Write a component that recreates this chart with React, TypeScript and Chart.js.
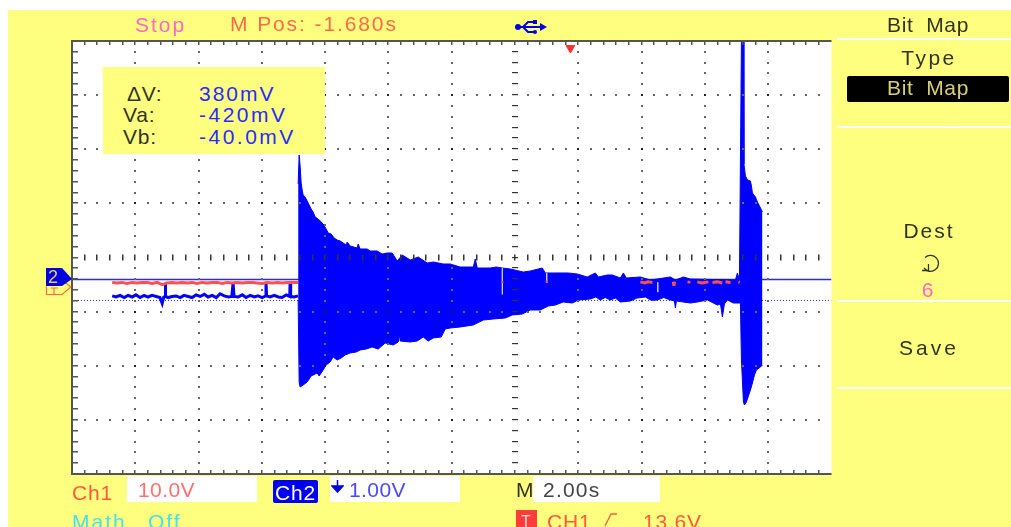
import React, { useEffect, useRef } from "react";
import { Chart, registerables } from "chart.js";

Chart.register(...registerables);

// Axes: seconds across (2.00 s/div), volts up (1.00 V/div)
const xMajorStep = 2;
const xMinorStep = 0.4;
const yMajorStep = 1;
const yMinorStep = 0.2;
const timeMin = 0;
const timeMax = 24;
const voltMin = -4;
const voltMax = 4;
const centreTime = 14;
const centreVolt = 0;
const burstMidVolt = -0.6;

const upperTime = [7.146,7.178,7.209,7.241,7.273,7.304,7.367,7.431,7.494,7.557,7.62,7.684,7.779,7.842,7.937,8.031,8.095,8.19,8.284,8.379,8.474,8.569,8.664,8.696,8.79,9.012,9.043,9.107,9.328,9.423,9.644,9.802,9.96,10.118,10.277,10.435,10.688,10.941,11.225,11.415,11.731,11.952,12.269,12.68,12.743,12.806,13.217,13.407,13.597,13.85,14.261,14.482,14.861,14.956,15.209,15.684,15.968,16.284,16.537,16.632,16.917,17.075,17.328,17.423,17.517,17.96,18.276,18.909,19.067,19.32,19.541,20.964,21.027,21.091,21.154,21.217,21.233,21.28,21.344,21.438,21.47,21.502,21.596,21.66,21.755,21.818];
const upperVolt = [1.358,1.894,1.691,1.376,1.247,1.155,1.118,1.044,0.97,0.896,0.841,0.748,0.711,0.674,0.619,0.527,0.453,0.434,0.36,0.323,0.305,0.268,0.231,0.286,0.212,0.176,0.249,0.157,0.157,0.12,0.12,0.065,0.083,0.083,-0.065,0.046,-0.046,0.009,-0.102,-0.083,-0.12,-0.12,-0.176,-0.176,-0.028,-0.194,-0.194,-0.176,-0.194,-0.212,-0.268,-0.249,-0.194,-0.286,-0.286,-0.286,-0.305,-0.36,-0.286,-0.36,-0.323,-0.323,-0.379,-0.286,-0.379,-0.36,-0.416,-0.36,-0.416,-0.36,-0.397,-0.416,-0.286,-0.416,4,4,1.728,1.506,1.432,1.413,1.321,1.192,1.118,1.025,0.915,0.841];

const lowerTime = [7.146,7.178,7.209,7.304,7.431,7.557,7.747,7.81,7.937,8.031,8.158,8.253,8.379,8.506,8.632,8.79,8.98,9.107,9.296,9.486,9.676,9.897,10.15,10.308,10.34,10.371,10.688,10.909,11.099,11.257,11.415,11.668,11.794,11.952,12.269,12.68,12.996,13.312,13.691,13.913,14.229,14.482,14.798,15.051,15.272,15.525,15.81,16,16.379,16.55,16.695,16.85,17.012,17.17,17.328,17.644,17.85,18.118,18.3,18.498,18.7,18.909,19.035,19.067,19.098,19.541,19.763,20.079,20.395,20.49,20.553,20.616,20.711,20.901,21.122,21.154,21.217,21.249,21.312,21.375,21.438,21.502,21.565,21.628,21.755,21.818];
const lowerVolt = [-0.785,-2.3,-2.393,-2.356,-2.3,-2.189,-2.134,-2.189,-2.079,-1.986,-1.931,-1.838,-1.894,-1.857,-1.801,-1.764,-1.746,-1.709,-1.691,-1.654,-1.691,-1.58,-1.617,-1.561,-1.413,-1.543,-1.561,-1.543,-1.469,-1.543,-1.487,-1.469,-1.321,-1.303,-1.284,-1.247,-1.155,-1.136,-1.118,-1.062,-1.044,-0.97,-0.97,-0.896,-0.878,-0.822,-0.841,-0.785,-0.767,-0.73,-0.785,-0.74,-0.785,-0.75,-0.822,-0.804,-0.75,-0.73,-0.79,-0.785,-0.74,-0.785,-0.804,-0.933,-0.804,-0.841,-0.822,-0.785,-0.878,-0.859,-1.099,-0.859,-0.785,-0.841,-0.841,-1.894,-2.67,-2.725,-2.67,-2.559,-2.448,-2.319,-2.171,-2.079,-2.023,-1.986];

const ch2IdleTime = [1.27,1.39,1.52,1.65,1.77,1.9,2.02,2.15,2.28,2.4,2.53,2.66,2.78,2.85,2.9,2.94,2.95,2.96,3.04,3.16,3.29,3.42,3.54,3.67,3.8,3.92,4.05,4.18,4.3,4.43,4.56,4.68,4.81,4.94,5.05,5.09,5.12,5.25,5.38,5.5,5.63,5.76,5.88,6.01,6.12,6.13,6.15,6.26,6.39,6.52,6.64,6.77,6.88,6.89,6.91,7.02,7.14];
const ch2IdleVolt = [-0.71,-0.73,-0.7,-0.74,-0.7,-0.73,-0.69,-0.74,-0.7,-0.73,-0.7,-0.72,-0.74,-0.85,-0.73,-0.72,-0.47,-0.72,-0.74,-0.72,-0.71,-0.74,-0.7,-0.72,-0.74,-0.69,-0.72,-0.68,-0.73,-0.7,-0.74,-0.67,-0.71,-0.73,-0.72,-0.47,-0.72,-0.73,-0.69,-0.74,-0.7,-0.73,-0.71,-0.74,-0.71,-0.45,-0.71,-0.73,-0.7,-0.73,-0.74,-0.69,-0.72,-0.48,-0.72,-0.73,-0.71];

const ch1Time = [1.27,1.42,1.58,1.74,1.9,2.05,2.21,2.37,2.53,2.69,2.85,3.0,3.16,3.32,3.48,3.64,3.8,3.95,4.11,4.27,4.43,4.59,4.75,4.9,5.06,5.22,5.38,5.54,5.7,5.85,6.01,6.17,6.33,6.49,6.65,6.8,6.96,7.14,7.15,
  17.96,18.1,18.2,18.34,18.4,19.0,19.02,19.04,19.1,19.45,19.54,19.6,19.76,19.9,20.11,20.15,20.24,20.4,20.55,20.6,20.65,20.81,20.9,21.06,21.1];
const ch1Volt = [-0.46,-0.47,-0.46,-0.48,-0.46,-0.47,-0.46,-0.46,-0.48,-0.46,-0.5,-0.47,-0.46,-0.47,-0.46,-0.47,-0.46,-0.48,-0.46,-0.47,-0.46,-0.46,-0.48,-0.46,-0.47,-0.46,-0.47,-0.46,-0.46,-0.47,-0.48,-0.46,-0.47,-0.46,-0.47,-0.46,-0.46,-0.46,null,
  -0.45,-0.47,-0.45,-0.46,null,-0.45,-0.52,-0.45,null,-0.45,-0.46,null,-0.45,-0.47,-0.45,null,-0.46,-0.45,-0.47,null,-0.45,-0.46,null,-0.45,-0.46];

const gapTime = [13.6, 13.6, null, 18.51, 18.51, null, 15.0, 15.0];
const gapVolt = [-0.2, -0.68, null, -0.46, -0.64, null, -0.29, -0.47];
const glintTime = [13.6, 15.0];
const glintVolt = [-0.45, -0.44];

const cursorTime = [0, 24];
const cursorB = [-0.406, -0.406];
const cursorA = [-0.794, -0.794];
const triggerTime = [15.75];
const triggerVolt = [3.87];

const pairs = (xs: (number | null)[], ys: (number | null)[]) => xs.map((x, i) => ({ x: x === null ? 0 : x, y: ys[i] }));

const gridPlugin = {
  id: "scopeGrid",
  beforeDraw(chart: any) {
    const { ctx, chartArea: a } = chart;
    ctx.save();
    ctx.fillStyle = "#ffffff";
    ctx.fillRect(a.left, a.top, a.right - a.left, a.bottom - a.top);
    ctx.restore();
  },
  afterDatasetsDraw(chart: any) {
    const { ctx, chartArea: a } = chart;
    const X = chart.scales.x;
    const Y = chart.scales.y;
    ctx.save();
    const xMinor: number[] = [];
    for (let k = 1; k * xMinorStep < timeMax - 1e-6; k++) xMinor.push(k * xMinorStep);
    const yMinor: number[] = [];
    for (let k = 1; k * yMinorStep < voltMax - voltMin - 1e-6; k++) yMinor.push(voltMin + k * yMinorStep);
    const isXMajor = (t: number) => Math.abs(t / xMajorStep - Math.round(t / xMajorStep)) < 1e-6;
    const isYMajor = (v: number) => Math.abs(v / yMajorStep - Math.round(v / yMajorStep)) < 1e-6;
    for (const t of xMinor) {
      for (const v of yMinor) {
        if (Math.abs(t - centreTime) < 1e-6 || Math.abs(v - centreVolt) < 1e-6) continue;
        if (isXMajor(t) || isYMajor(v)) {
          ctx.fillStyle = isXMajor(t) && isYMajor(v) ? "#222222" : "#666666";
          ctx.fillRect(Math.round(X.getPixelForValue(t)) - 1, Math.round(Y.getPixelForValue(v)) - 1, 2, 2);
        }
      }
    }
    // centre cross: short dashes
    ctx.fillStyle = "#333333";
    for (const t of xMinor) {
      ctx.fillRect(Math.round(X.getPixelForValue(t)) - 1, Y.getPixelForValue(centreVolt) - 3, 1.5, 6);
    }
    for (const v of yMinor) {
      ctx.fillRect(X.getPixelForValue(centreTime) - 3, Math.round(Y.getPixelForValue(v)) - 1, 6, 1.2);
    }
    // border ticks
    ctx.fillStyle = "#555555";
    for (const t of xMinor) {
      const p = Math.round(X.getPixelForValue(t)) - 1;
      ctx.fillRect(p, a.top, 1.5, 4);
      ctx.fillRect(p, a.bottom - 4, 1.5, 4);
    }
    for (const v of yMinor) {
      const p = Math.round(Y.getPixelForValue(v)) - 1;
      ctx.fillRect(a.left, p, 6, 1.5);
    }
    ctx.fillRect(a.left - 1, a.top - 1, a.right - a.left + 1, 2);
    ctx.fillRect(a.left - 1, a.bottom - 1, a.right - a.left + 1, 2);
    ctx.fillRect(a.left - 1, a.top - 1, 2, a.bottom - a.top + 1);
    ctx.restore();
  },
};

const SANS = '"Liberation Sans", sans-serif';

function Box(p: { x: number; y: number; w: number; h: number; c: string; r?: number }) {
  return <div style={{ position: "absolute", left: p.x, top: p.y, width: p.w, height: p.h, background: p.c, borderRadius: p.r || 0 }} />;
}

function Label(p: { x: number; y: number; t: string; c: string; s?: number; ls?: number; center?: boolean }) {
  return (
    <span
      style={{
        position: "absolute",
        left: p.x,
        top: p.y,
        color: p.c,
        font: `${p.s || 21}px ${SANS}`,
        lineHeight: "24px",
        letterSpacing: p.ls === undefined ? 0.8 : p.ls,
        whiteSpace: "pre",
        transform: p.center ? "translateX(-50%)" : undefined,
      }}
    >
      {p.t}
    </span>
  );
}

export default function App() {
  const ref = useRef<HTMLCanvasElement>(null);
  useEffect(() => {
    const gapData = gapTime.map((x, i) => ({ x: x === null ? 14 : x, y: gapVolt[i] }));
    const chart = new Chart(ref.current!, {
      type: "line",
      data: {
        datasets: [
          { label: "Cursor b", data: pairs(cursorTime, cursorB), borderColor: "#2a2ae6", borderWidth: 1.5, pointRadius: 0, order: 5 },
          { label: "Cursor a", data: pairs(cursorTime, cursorA), borderColor: "#2a2ae6", borderWidth: 1, borderDash: [1, 2], pointRadius: 0, order: 5 },
          { label: "Ch2 upper", data: pairs(upperTime, upperVolt), borderColor: "#0000ff", backgroundColor: "#0000ff", borderWidth: 1, pointRadius: 0, fill: { value: burstMidVolt }, order: 3 },
          { label: "Ch2 lower", data: pairs(lowerTime, lowerVolt), borderColor: "#0000ff", backgroundColor: "#0000ff", borderWidth: 1, pointRadius: 0, fill: { value: burstMidVolt }, order: 3 },
          { label: "Ch2 idle", data: pairs(ch2IdleTime, ch2IdleVolt), borderColor: "#0000ff", borderWidth: 3, pointRadius: 0, order: 2 },
          { label: "Ch1 idle", data: pairs(ch1Time, ch1Volt), borderColor: "#ff5050", borderWidth: 3, pointRadius: 0, spanGaps: false, order: 1 },
          { label: "Gaps", data: gapData, borderColor: "#c8c8ff", borderWidth: 1, pointRadius: 0, spanGaps: false, order: 0 },
          { label: "Glints", data: pairs(glintTime, glintVolt), showLine: false, pointStyle: "rect", pointRadius: 1.5, pointBackgroundColor: "#ff4060", pointBorderWidth: 0, order: -1 },
          {
            label: "Trigger",
            data: pairs(triggerTime, triggerVolt),
            showLine: false,
            pointStyle: "triangle",
            rotation: 180,
            pointRadius: 5,
            pointBackgroundColor: "#ff3030",
            pointBorderColor: "#ff3030",
            order: 0,
          },
        ] as any,
      },
      options: {
        animation: false,
        responsive: false,
        layout: { padding: { left: 72, right: 179.5, top: 41, bottom: 53 } },
        plugins: { legend: { display: false }, tooltip: { enabled: false }, title: { display: false } },
        elements: { line: { tension: 0 } },
        scales: {
          x: { type: "linear", min: timeMin, max: timeMax, display: false, ticks: { stepSize: xMajorStep } },
          y: { type: "linear", min: voltMin, max: voltMax, display: false, ticks: { stepSize: yMajorStep } },
        },
      },
      plugins: [gridPlugin],
    } as any);
    return () => chart.destroy();
  }, []);

  const Y = "#ffff7f";
  const W = "#ffffff";
  const INK = "#333322";
  return (
    <div style={{ position: "fixed", left: 0, top: 0, width: 1011, height: 527, overflow: "hidden", background: W }}>
      <Box x={8} y={10} w={1003} h={517} c={Y} />
      <canvas ref={ref} width={1011} height={527} style={{ position: "absolute", left: 0, top: 0, display: "block" }} />

      {/* top strip */}
      <Label x={135} y={13} t="Stop" c="#ff66cc" ls={2} />
      <Label x={230} y={12} t="M Pos: -1.680s" c="#ff6a4a" ls={1.9} />
      <svg style={{ position: "absolute", left: 514, top: 18, width: 34, height: 18 }} viewBox="0 0 34 18">
        <path d="M3 9H30M9 9L14 4H20M9 9L14 14H20" stroke="#0000e0" strokeWidth="2" fill="none" />
        <path d="M26 5L33 9L26 13Z" fill="#0000e0" />
        <circle cx="4" cy="9" r="3" fill="#0000e0" />
        <rect x="19" y="2" width="4" height="4" fill="#0000e0" />
        <circle cx="21" cy="14" r="2" fill="#0000e0" />
      </svg>

      {/* cursor readout */}
      <Box x={103} y={67} w={222} h={87} c={Y} />
      <Label x={127} y={82} t="ΔV:" c={INK} />
      <Label x={123} y={103} t="Va:" c={INK} />
      <Label x={123} y={125} t="Vb:" c={INK} />
      <Label x={199} y={82} t="380mV" c="#2a2aff" ls={2} />
      <Label x={199} y={103} t="-420mV" c="#2a2aff" ls={2.5} />
      <Label x={199} y={125} t="-40.0mV" c="#2a2aff" ls={2.5} />

      {/* ground / channel marker */}
      <svg style={{ position: "absolute", left: 44, top: 264, width: 30, height: 36 }} viewBox="0 0 30 36">
        <path d="M2.5 22.5V30.5H18L27 23L19 17" fill="none" stroke="#ff6a4a" strokeWidth="1.2" />
        <path d="M10 24V30M6.5 24H14" fill="none" stroke="#ff6a4a" strokeWidth="1.2" />
        <path d="M2 4H18L28 15L18 22H2Z" fill="#0000e0" />
      </svg>
      <Label x={48} y={265} t="2" c="#e8d060" s={18} ls={0} />

      {/* right menu */}
      <Box x={837} y={38} w={174} h={1.5} c={W} />
      <Box x={837} y={126} w={174} h={1.5} c={W} />
      <Box x={837} y={300} w={174} h={1.5} c={W} />
      <Box x={837} y={387} w={174} h={1.5} c={W} />
      <Box x={847} y={76} w={162} h={26} c="#000000" r={2} />
      <Label x={928} y={13} t="Bit  Map" c={INK} center ls={0.6} />
      <Label x={929} y={46} t="Type" c={INK} center ls={2.5} />
      <Label x={928} y={76} t="Bit  Map" c="#d8d070" center ls={0.6} />
      <Label x={929} y={219} t="Dest" c={INK} center ls={2} />
      <svg style={{ position: "absolute", left: 920, top: 253, width: 22, height: 21 }} viewBox="0 0 22 21">
        <path d="M5 4.5A8 8 0 1 1 4 15" fill="none" stroke={INK} strokeWidth="1.3" />
        <path d="M2 17.5H8.5V11" fill="none" stroke={INK} strokeWidth="1.3" />
      </svg>
      <Label x={928} y={278} t="6" c="#ff66cc" center />
      <Label x={929} y={336} t="Save" c={INK} center ls={3} />

      {/* bottom strip */}
      <Box x={127} y={476} w={130} h={26} c={W} />
      <Box x={330} y={476} w={130} h={26} c={W} />
      <Box x={533} y={476} w={127} h={26} c={W} />
      <Box x={273} y={480} w={45} h={23} c="#0000f0" r={2} />
      <Box x={516} y={510} w={21} h={20} c="#ff3c3c" />
      <Label x={72} y={481} t="Ch1" c="#ff5a3c" />
      <Label x={138} y={478} t="10.0V" c="#ff7070" ls={0.4} />
      <Label x={275} y={481} t="Ch2" c="#ffffff" />
      <svg style={{ position: "absolute", left: 331, top: 480, width: 13, height: 13 }} viewBox="0 0 13 13">
        <path d="M6.5 0V7M1 6H12L6.5 12Z" stroke="#0000e0" strokeWidth="1.5" fill="#0000e0" />
      </svg>
      <Label x={349} y={478} t="1.00V" c="#4a4aff" ls={0.4} />
      <Label x={516} y={478} t="M" c={INK} />
      <Label x={543} y={478} t="2.00s" c="#444444" ls={1.2} />
      <Label x={72} y={510} t="Math" c="#44e0ee" ls={2} />
      <Label x={148} y={510} t="Off" c="#44e0ee" ls={2} />
      <Label x={521} y={510} t="T" c="#ffe0d0" s={16} ls={0} />
      <Label x={547} y={510} t="CH1" c="#ff5a3c" />
      <svg style={{ position: "absolute", left: 603, top: 510, width: 16, height: 17 }} viewBox="0 0 16 17">
        <path d="M2 16L8 4H14" fill="none" stroke="#ff5a3c" strokeWidth="1.3" />
      </svg>
      <Label x={643} y={510} t="13.6V" c="#ff5a3c" />
    </div>
  );
}
